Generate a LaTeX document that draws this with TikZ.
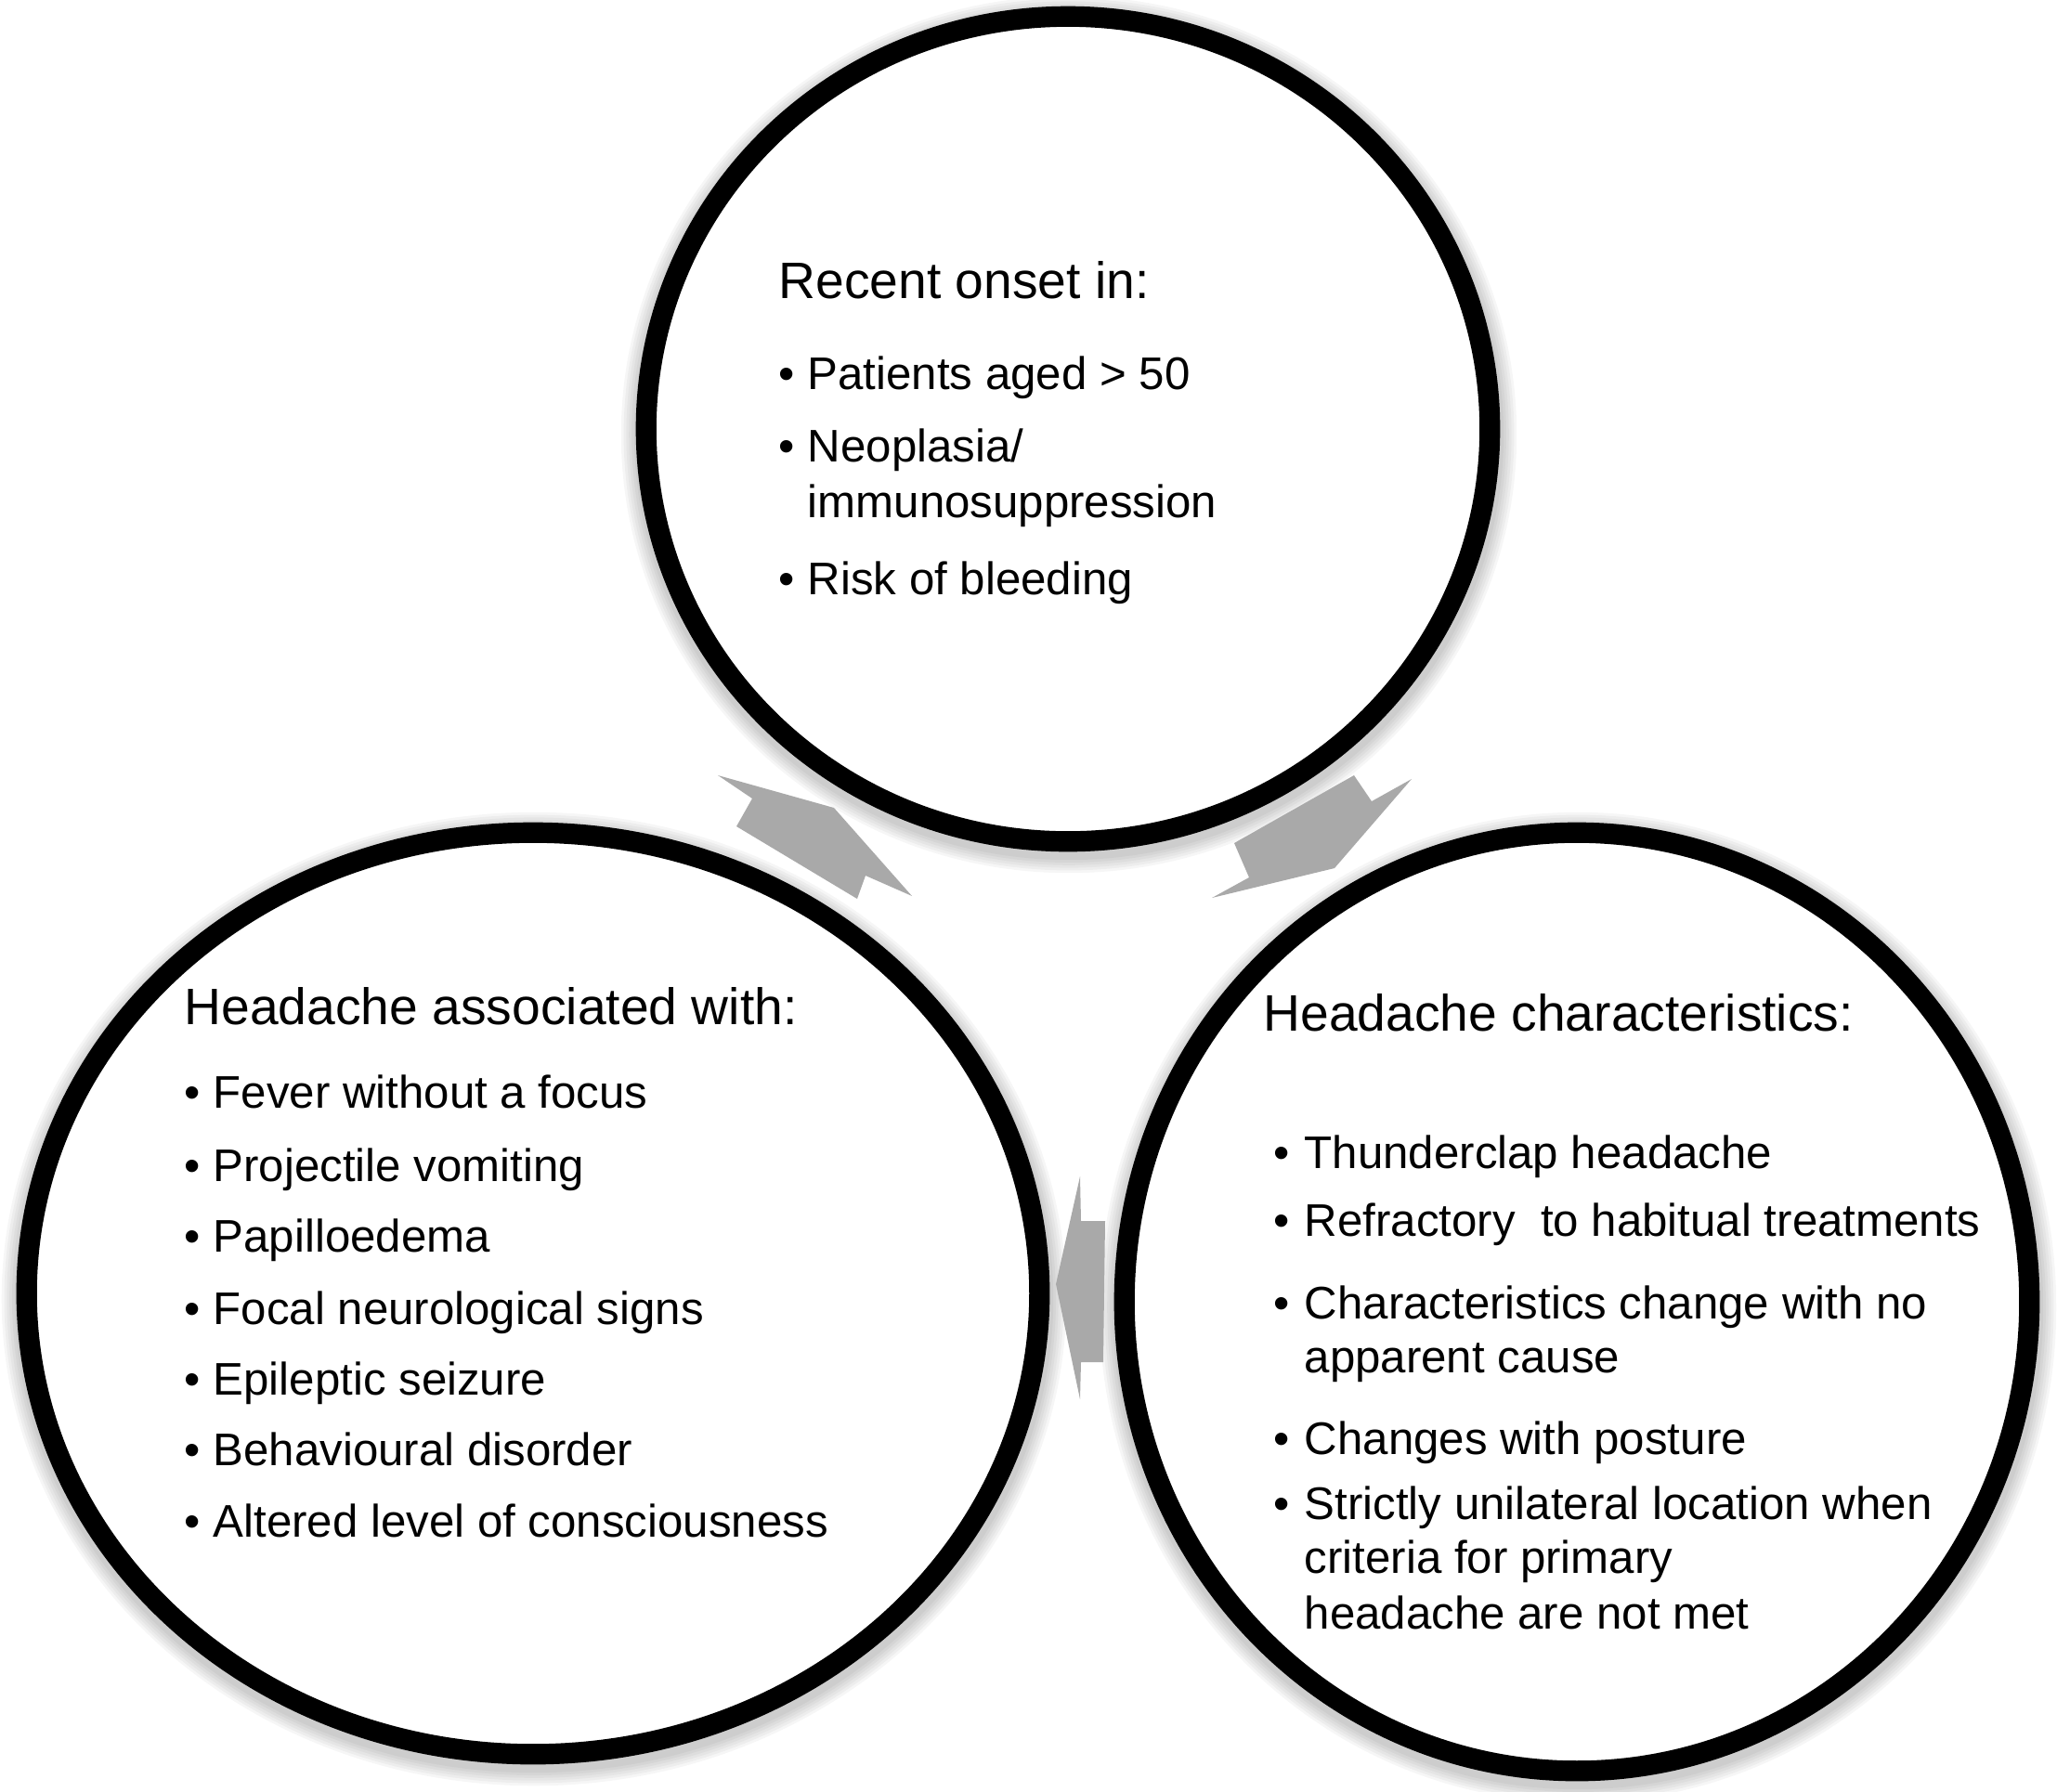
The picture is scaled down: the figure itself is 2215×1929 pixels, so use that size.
\documentclass[tikz,border=0pt]{standalone}
\usepackage{fontspec}
\setmainfont{Liberation Sans}
\usetikzlibrary{shapes.geometric}
\definecolor{arrowgray}{RGB}{169,169,169}
\tikzset{
  ring/.style={ellipse, draw=black, line width=6.3pt, inner sep=0pt, fill=white},
  glow/.style={ellipse, draw=black, inner sep=0pt, draw opacity=0.035},
  flowarrow/.style={fill=arrowgray, draw=none},
  head/.style={anchor=base west, inner sep=0pt, font=\fontsize{15.7}{19}\selectfont},
  item/.style={anchor=base west, inner sep=0pt, font=\fontsize{14}{17}\selectfont},
}
\begin{document}
\begin{tikzpicture}[x=0.01cm, y=-0.01cm]
\useasboundingbox (0,0) rectangle (2215,1929);
% soft shadows
\foreach \w in {1,2,3,4,5,6}{
  \node[glow, line width={6.3pt+\w*1.6pt}, minimum width=9.08cm, minimum height=8.88cm] at (1151,468) {};
  \node[glow, line width={6.3pt+\w*1.6pt}, minimum width=10.90cm, minimum height=9.92cm] at (575,1399) {};
  \node[glow, line width={6.3pt+\w*1.6pt}, minimum width=9.74cm, minimum height=10.10cm] at (1699,1408) {};
}
% arrows
\fill[flowarrow] (773,835) -- (898,870) -- (982,965) -- (932,943) -- (923,968) -- (793,890) -- (810,860) -- cycle;
\fill[flowarrow] (1520,839) -- (1437,935) -- (1305,967) -- (1345,945) -- (1329,908) -- (1458,835) -- (1477,863) -- cycle;
\fill[flowarrow] (1163,1267) -- (1164,1315) -- (1190,1315) -- (1188,1467) -- (1164,1467) -- (1163,1507) -- (1137,1383) -- cycle;
% circles
\node[ring, minimum width=9.08cm, minimum height=8.88cm] (topc) at (1150,462) {};
\node[ring, minimum width=10.90cm, minimum height=9.92cm] (leftc) at (574,1393) {};
\node[ring, minimum width=9.74cm, minimum height=10.10cm] (rightc) at (1698,1402) {};
% top circle text
\node[head] (t0) at (838,321) {Recent onset in:};
\node[item] (tb1) at (838,419) {•};
\node[item] (t1) at (869,419) {Patients aged > 50};
\node[item] (tb2) at (838,497) {•};
\node[item] (t2) at (869,497) {Neoplasia/};
\node[item] (t2b) at (869,557) {immunosuppression};
\node[item] (tb3) at (838,640) {•};
\node[item] (t3) at (869,640) {Risk of bleeding};
% left circle text
\node[head] (l0) at (198,1103) {Headache associated with:};
\foreach \yy/\txt [count=\i] in {1193/Fever without a focus, 1272/Projectile vomiting, 1348/Papilloedema, 1426/Focal neurological signs, 1502/Epileptic seizure, 1578/Behavioural disorder, 1655/Altered level of consciousness}{
  \node[item] (lb\i) at (198,\yy) {•};
  \node[item] (l\i) at (229,\yy) {\txt};
}
% right circle text
\node[head] (r0) at (1360,1110) {Headache characteristics:};
\node[item] (rb1) at (1371,1258) {•};
\node[item] (r1) at (1404,1258) {Thunderclap headache};
\node[item] (rb2) at (1371,1331) {•};
\node[item] (r2) at (1404,1331) {Refractory~ to habitual treatments};
\node[item] (rb3) at (1371,1420) {•};
\node[item] (r3) at (1404,1420) {Characteristics change with no};
\node[item] (r3b) at (1404,1478) {apparent cause};
\node[item] (rb4) at (1371,1566) {•};
\node[item] (r4) at (1404,1566) {Changes with posture};
\node[item] (rb5) at (1371,1636) {•};
\node[item] (r5) at (1404,1636) {Strictly unilateral location when};
\node[item] (r5b) at (1404,1694) {criteria for primary};
\node[item] (r5c) at (1404,1754) {headache are not met};
\end{tikzpicture}
\end{document}
